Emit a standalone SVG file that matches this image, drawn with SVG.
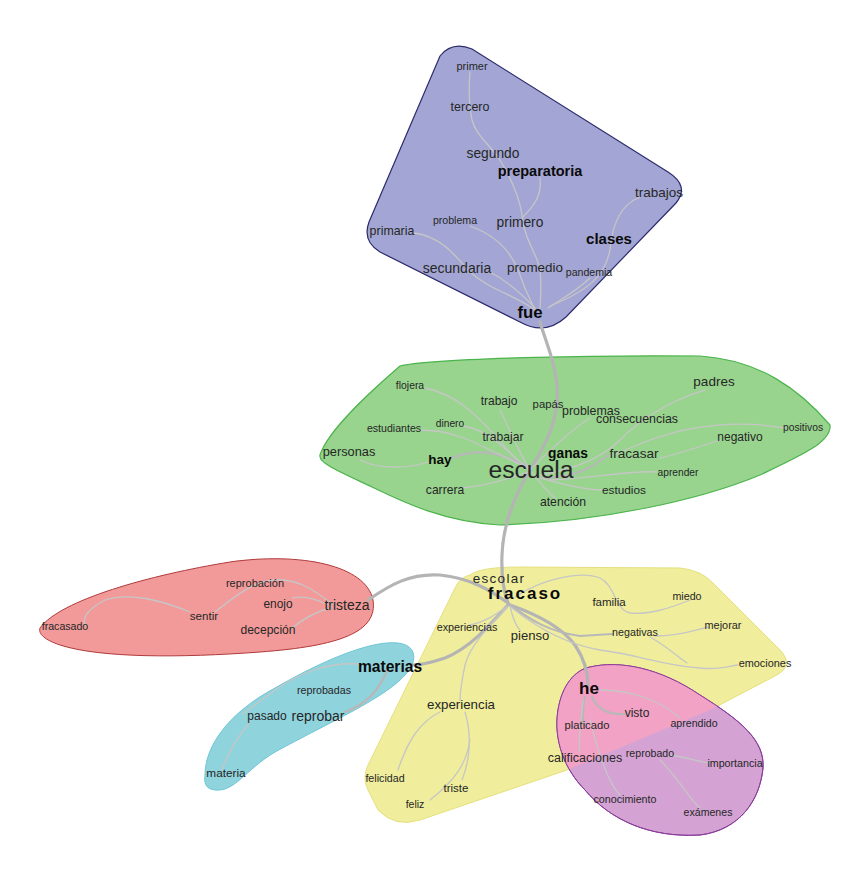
<svg xmlns="http://www.w3.org/2000/svg" width="855" height="869" viewBox="0 0 855 869">
<defs>
<style>
text{font-family:"Liberation Sans",Arial,sans-serif;fill:#262626;text-anchor:middle}
.b{font-weight:bold;fill:#0a0a0a}
.lt{fill:none;stroke:#c6c6c6;stroke-width:1.3;stroke-linecap:round}
.tk{fill:none;stroke:#b4b4b4;stroke-width:3.2;stroke-linecap:round}
.md{fill:none;stroke:#b8b8b8;stroke-width:2.2;stroke-linecap:round}
</style>
<clipPath id="cy"><path d="M 470,575 Q 480,567 520,567 L 680,568 Q 700,570 712,582 L 780,650 Q 795,666 775,676 L 710,710 L 567,770 L 420,820 Q 395,828 378,810 L 368,790 Q 362,778 368,765 L 455,588 Q 460,577 470,575 Z"/></clipPath>
</defs>
<rect width="855" height="869" fill="#ffffff"/>
<g id="clusters">
<path id="c-purple" d="M 440,56 Q 452,41 472,49 L 668,172 Q 690,186 676,203 L 566,317 Q 545,336 520,322 L 380,252 Q 362,241 369,222 Z" fill="#a3a6d4" stroke="#2b2b6b" stroke-width="1.2"/>
<path id="c-green" d="M 320,455 C 328,430 370,392 400,366 C 430,358 600,355 700,356 C 760,360 800,390 830,425 C 832,442 800,456 760,475 C 700,500 600,522 500,525 C 445,522 405,503 372,487 C 340,472 318,463 320,455 Z" fill="#98d48e" stroke="#4cb44c" stroke-width="1.2"/>
<path id="c-red" d="M 40,628 C 60,600 150,575 230,562 C 300,552 366,565 373,600 C 378,632 340,646 260,652 C 180,658 100,658 60,645 C 45,640 38,634 40,628 Z" fill="#f29a9a" stroke="#b03a3a" stroke-width="1"/>
<path id="c-cyan" d="M 205,775 C 205,745 230,712 275,688 C 320,662 370,640 398,643 C 416,645 419,660 405,675 C 385,698 330,722 275,752 C 245,770 235,792 215,790 C 205,789 204,782 205,775 Z" fill="#8fd3dd" stroke="#70c6d6" stroke-width="1"/>
<path id="c-yellow" d="M 470,575 Q 480,567 520,567 L 680,568 Q 700,570 712,582 L 780,650 Q 795,666 775,676 L 710,710 L 567,770 L 420,820 Q 395,828 378,810 L 368,790 Q 362,778 368,765 L 455,588 Q 460,577 470,575 Z" fill="#f0ee9c" stroke="#e4e07c" stroke-width="1"/>
<path id="c-violet" d="M 590,667 C 620,660 660,668 700,695 C 740,720 765,740 763,768 C 760,800 740,830 700,835 C 650,838 610,820 585,790 C 565,770 553,740 558,710 C 562,685 575,670 590,667 Z" fill="#d4a3d4" stroke="#8a3c9a" stroke-width="1"/>
<path id="c-pink" d="M 590,667 C 620,660 660,668 700,695 C 740,720 765,740 763,768 C 760,800 740,830 700,835 C 650,838 610,820 585,790 C 565,770 553,740 558,710 C 562,685 575,670 590,667 Z" fill="#f2a2c4" clip-path="url(#cy)"/>
<path d="M 590,667 C 620,660 660,668 700,695 C 740,720 765,740 763,768 C 760,800 740,830 700,835 C 650,838 610,820 585,790 C 565,770 553,740 558,710 C 562,685 575,670 590,667 Z" fill="none" stroke="#8a3c9a" stroke-width="1"/>
</g>
<g id="connectors">
<!-- purple -->
<path class="lt" d="M 470,72 C 468,95 470,110 472,120 C 476,135 490,145 500,160 C 512,180 520,200 522,215 C 524,240 538,255 540,270 C 542,290 540,300 540,312"/>
<path class="lt" d="M 540,178 C 542,195 535,205 522,218"/>
<path class="lt" d="M 414,233 C 440,236 455,255 470,272 C 490,290 515,295 535,310"/>
<path class="lt" d="M 470,226 C 495,235 510,250 518,270 C 525,290 530,300 535,310"/>
<path class="lt" d="M 490,272 C 505,280 520,292 535,308"/>
<path class="lt" d="M 640,197 C 620,205 612,225 610,250 C 605,275 590,290 550,306"/>
<path class="lt" d="M 590,278 C 575,292 560,300 548,308"/>
<!-- trunk -->
<path class="tk" d="M 540,322 C 545,340 555,360 557,385 C 560,420 545,445 530,470"/>
<path class="tk" d="M 530,470 C 515,495 503,525 502,555 C 501,580 505,595 508,603"/>
<!-- green -->
<path class="md" d="M 452,458 C 470,450 495,448 530,468"/>
<path class="lt" d="M 360,460 C 380,470 410,468 428,462"/>
<path class="lt" d="M 420,430 C 450,430 470,440 490,450 C 505,457 520,464 530,470"/>
<path class="lt" d="M 425,388 C 460,395 480,420 500,440 C 510,455 520,462 530,470"/>
<path class="lt" d="M 463,426 C 490,430 505,450 530,470"/>
<path class="lt" d="M 500,410 C 510,430 520,455 530,470"/>
<path class="lt" d="M 590,418 C 570,430 545,455 530,470"/>
<path class="lt" d="M 705,390 C 670,400 640,420 620,440 C 600,460 570,470 540,475"/>
<path class="lt" d="M 785,428 C 740,420 690,425 650,440 C 630,448 620,452 610,456"/>
<path class="lt" d="M 720,440 C 690,450 675,455 660,458"/>
<path class="md" d="M 608,455 C 590,470 570,478 540,478"/>
<path class="lt" d="M 657,472 C 630,470 600,478 550,480"/>
<path class="lt" d="M 602,490 C 580,490 555,482 540,478"/>
<path class="lt" d="M 555,498 C 545,490 538,480 532,472"/>
<path class="lt" d="M 462,488 C 490,485 510,478 528,472"/>
<!-- red -->
<path class="tk" d="M 508,603 C 490,590 470,578 440,575 C 410,573 390,585 368,600"/>
<path class="lt" d="M 332,604 C 312,588 295,578 272,580 C 252,583 235,596 215,612"/>
<path class="lt" d="M 330,606 C 315,598 302,596 293,598"/>
<path class="lt" d="M 330,608 C 315,612 302,620 292,628"/>
<path class="lt" d="M 190,612 C 160,600 130,592 105,600 C 90,608 80,618 86,626"/>
<!-- cyan -->
<path class="tk" d="M 508,605 C 490,625 470,648 445,658 C 430,663 420,665 412,665"/>
<path class="lt" d="M 358,664 C 330,662 300,672 275,690 C 258,703 248,710 242,714"/>
<path class="md" d="M 388,668 C 380,690 365,705 345,712"/>
<path class="lt" d="M 250,722 C 235,740 226,758 222,770"/>
<!-- he -->
<path class="tk" d="M 510,605 C 530,612 560,625 575,645 C 585,660 588,675 588,685"/>
<path class="md" d="M 592,697 C 598,710 610,715 625,714"/>
<path class="md" d="M 585,697 C 582,710 583,718 583,724"/>
<path class="lt" d="M 583,700 C 580,730 578,745 580,752"/>
<path class="lt" d="M 600,690 C 630,690 660,700 680,718"/>
<path class="lt" d="M 670,755 C 690,758 700,762 710,763"/>
<path class="lt" d="M 590,720 C 600,760 610,785 620,795"/>
<path class="lt" d="M 660,760 C 680,780 690,800 700,808"/>
<!-- yellow -->
<path class="lt" d="M 515,597 C 540,580 580,570 600,578 C 615,585 615,610 630,613 C 650,615 670,608 690,600"/>
<path class="md" d="M 510,605 C 530,620 550,632 580,636 L 612,634"/>
<path class="lt" d="M 655,636 C 680,636 695,630 708,627"/>
<path class="lt" d="M 512,608 C 540,630 570,645 600,650 C 640,655 660,665 700,668 C 715,670 725,667 738,665"/>
<path class="lt" d="M 650,637 C 665,645 675,655 687,663"/>
<path class="lt" d="M 510,606 C 512,615 515,625 520,630"/>
<path class="lt" d="M 508,606 C 495,615 485,622 470,625"/>
<path class="lt" d="M 508,606 C 490,625 470,645 465,665 C 462,680 460,690 460,700"/>
<path class="lt" d="M 465,712 C 472,735 470,760 462,780"/>
<path class="lt" d="M 440,712 C 420,722 408,740 398,770"/>
<path class="lt" d="M 470,740 C 466,765 455,780 430,800"/>
</g>
<g id="nodes">
<g id="n-primer"><text x="472" y="70" font-size="11">primer</text></g>
<g id="n-tercero"><text x="470" y="111" font-size="12.5">tercero</text></g>
<g id="n-segundo"><text x="493" y="158" font-size="13.8">segundo</text></g>
<g id="n-preparatoria"><text class="b" x="540" y="176" font-size="14.5">preparatoria</text></g>
<g id="n-trabajos"><text x="659" y="197" font-size="13.5">trabajos</text></g>
<g id="n-problema"><text x="455" y="224" font-size="10.6">problema</text></g>
<g id="n-primero"><text x="520" y="227" font-size="13.8">primero</text></g>
<g id="n-primaria"><text x="392" y="235" font-size="12.4">primaria</text></g>
<g id="n-clases"><text class="b" x="609" y="244" font-size="15">clases</text></g>
<g id="n-secundaria"><text x="457" y="273" font-size="14">secundaria</text></g>
<g id="n-promedio"><text x="535" y="272" font-size="13.4">promedio</text></g>
<g id="n-pandemia"><text x="589" y="276" font-size="10.6">pandemia</text></g>
<g id="n-fue"><text class="b" x="530" y="318" font-size="16.7">fue</text></g>

<g id="n-flojera"><text x="410" y="389" font-size="10.4">flojera</text></g>
<g id="n-trabajo"><text x="499" y="405" font-size="12">trabajo</text></g>
<g id="n-papas"><text x="548" y="408" font-size="11.3">papás</text></g>
<g id="n-problemas"><text x="591" y="415" font-size="12.4">problemas</text></g>
<g id="n-consecuencias"><text x="637" y="423" font-size="12.4">consecuencias</text></g>
<g id="n-padres"><text x="714" y="386" font-size="13.5">padres</text></g>
<g id="n-estudiantes"><text x="394" y="432" font-size="10.6">estudiantes</text></g>
<g id="n-dinero"><text x="450" y="427" font-size="10.2">dinero</text></g>
<g id="n-trabajar"><text x="503" y="441" font-size="12.1">trabajar</text></g>
<g id="n-negativo"><text x="740" y="441" font-size="12">negativo</text></g>
<g id="n-positivos"><text x="803" y="431" font-size="10.3">positivos</text></g>
<g id="n-personas"><text x="349" y="456" font-size="12.8">personas</text></g>
<g id="n-hay"><text class="b" x="440" y="464" font-size="13.5">hay</text></g>
<g id="n-ganas"><text class="b" x="568" y="458" font-size="13.8">ganas</text></g>
<g id="n-fracasar"><text x="634" y="458" font-size="13.6">fracasar</text></g>
<g id="n-escuela"><text x="531" y="478" font-size="24.7" fill="#111">escuela</text></g>
<g id="n-aprender"><text x="678" y="476" font-size="10.2">aprender</text></g>
<g id="n-carrera"><text x="445" y="494" font-size="12.1">carrera</text></g>
<g id="n-estudios"><text x="624" y="494" font-size="11.8">estudios</text></g>
<g id="n-atencion"><text x="563" y="506" font-size="12.2">atención</text></g>

<g id="n-reprobacion"><text x="255" y="587" font-size="11">reprobación</text></g>
<g id="n-enojo"><text x="278" y="608" font-size="11.9">enojo</text></g>
<g id="n-tristeza"><text x="347" y="610" font-size="14">tristeza</text></g>
<g id="n-sentir"><text x="204" y="620" font-size="11.6">sentir</text></g>
<g id="n-decepcion"><text x="268" y="634" font-size="12.1">decepción</text></g>
<g id="n-fracasado"><text x="65" y="630" font-size="10.6">fracasado</text></g>

<g id="n-escolar"><text x="499" y="583" font-size="13.5" letter-spacing="1.3">escolar</text></g>
<g id="n-fracaso"><text class="b" x="525" y="599" font-size="17" letter-spacing="2">fracaso</text></g>
<g id="n-familia"><text x="609" y="606" font-size="11.5">familia</text></g>
<g id="n-miedo"><text x="687" y="600" font-size="10.7">miedo</text></g>
<g id="n-experiencias"><text x="467" y="631" font-size="10.8">experiencias</text></g>
<g id="n-pienso"><text x="530" y="640" font-size="13.1">pienso</text></g>
<g id="n-negativas"><text x="635" y="636" font-size="10.7">negativas</text></g>
<g id="n-mejorar"><text x="723" y="629" font-size="10.9">mejorar</text></g>
<g id="n-emociones"><text x="765" y="667" font-size="10.9">emociones</text></g>
<g id="n-experiencia"><text x="461" y="709" font-size="13.3">experiencia</text></g>
<g id="n-felicidad"><text x="385" y="782" font-size="10.7">felicidad</text></g>
<g id="n-triste"><text x="456" y="792" font-size="11.5">triste</text></g>
<g id="n-feliz"><text x="415" y="808" font-size="10.5">feliz</text></g>

<g id="n-materias"><text class="b" x="390" y="672" font-size="15.6">materias</text></g>
<g id="n-reprobadas"><text x="324" y="694" font-size="10.7">reprobadas</text></g>
<g id="n-pasado"><text x="267" y="720" font-size="12">pasado</text></g>
<g id="n-reprobar"><text x="318" y="721" font-size="14">reprobar</text></g>
<g id="n-materia"><text x="226" y="777" font-size="11.8">materia</text></g>

<g id="n-he"><text class="b" x="589" y="694" font-size="17">he</text></g>
<g id="n-visto"><text x="637" y="717" font-size="12">visto</text></g>
<g id="n-platicado"><text x="587" y="729" font-size="11.2">platicado</text></g>
<g id="n-aprendido"><text x="694" y="727" font-size="10.6">aprendido</text></g>
<g id="n-calificaciones"><text x="585" y="762" font-size="12.5">calificaciones</text></g>
<g id="n-reprobado"><text x="650" y="757" font-size="10.6">reprobado</text></g>
<g id="n-importancia"><text x="735" y="767" font-size="10.7">importancia</text></g>
<g id="n-conocimiento"><text x="625" y="803" font-size="10.7">conocimiento</text></g>
<g id="n-examenes"><text x="708" y="816" font-size="10.6">exámenes</text></g>
</g>
</svg>
